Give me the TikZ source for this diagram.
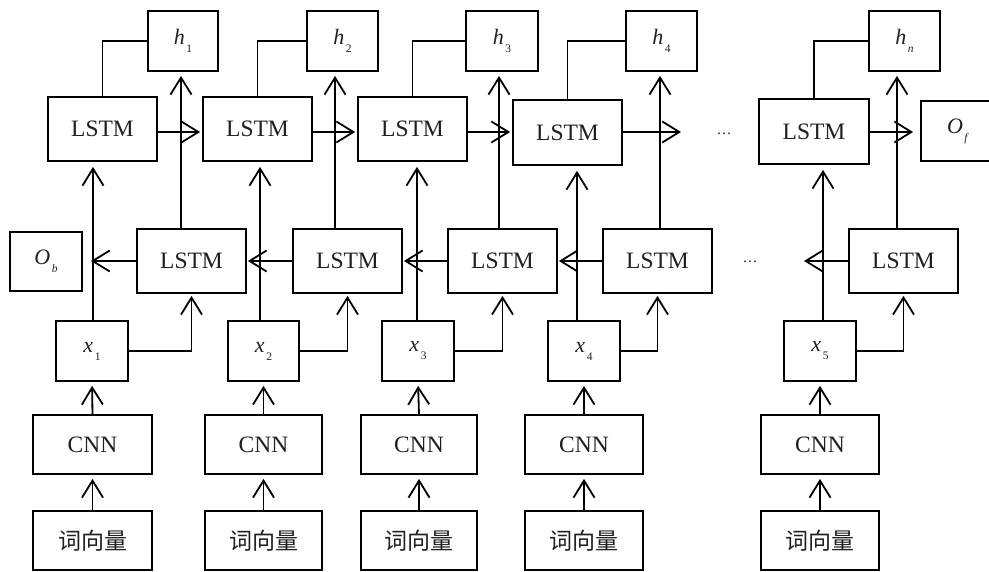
\documentclass[tikz,border=0pt]{standalone}
\usepackage{fontspec}
\setmainfont{Liberation Serif}
\newfontfamily\cjk{Noto Sans CJK SC}
\usetikzlibrary{arrows.meta}

\definecolor{ink}{RGB}{35,31,32}

% italic symbol with a lowered small index
\newcommand{\vsub}[2]{\textit{#1}\kern1.5pt\raisebox{-8pt}{\fontsize{11.5}{11.5}\selectfont #2}}

\begin{document}
\begin{tikzpicture}[x=1pt,y=-1pt,
  box/.style={draw, line width=1.8pt, inner sep=0pt, text=ink,
    font=\fontsize{23.5}{24}\selectfont},
  symbox/.style={box, font=\fontsize{22}{23}\selectfont},
  cjkbox/.style={box, font=\cjk\fontsize{23}{24}\selectfont},
  wire/.style={line width=1.8pt},
  arr/.style={wire, -{Straight Barb[length=17pt,width=21pt]}, shorten >=2pt},
  dots/.style={text=ink, font=\fontsize{15}{15}\selectfont, inner sep=0pt},
]
\clip (0,0) rectangle (989,572);
\fill[white] (0,0) rectangle (989,572);

% forward LSTM row
\node[box, minimum width=109pt, minimum height=64pt] (f1) at (102.5,129) {LSTM};
\node[box, minimum width=109pt, minimum height=64pt] (f2) at (257.5,129) {LSTM};
\node[box, minimum width=109pt, minimum height=64pt] (f3) at (412.5,129) {LSTM};
\node[box, minimum width=109pt, minimum height=65pt] (f4) at (567.5,132.5) {LSTM};
\node[box, minimum width=110pt, minimum height=65pt] (f5) at (814,131.5) {LSTM};

% backward LSTM row
\node[box, minimum width=109pt, minimum height=64pt] (b1) at (191.5,261) {LSTM};
\node[box, minimum width=109pt, minimum height=64pt] (b2) at (347.5,261) {LSTM};
\node[box, minimum width=109pt, minimum height=64pt] (b3) at (502.5,261) {LSTM};
\node[box, minimum width=109pt, minimum height=64pt] (b4) at (657.5,261) {LSTM};
\node[box, minimum width=109pt, minimum height=64pt] (b5) at (903.5,261) {LSTM};

% hidden outputs
\node[symbox, minimum width=70pt, minimum height=60pt] (h1) at (183,41) {\vsub{h}{1}};
\node[symbox, minimum width=71pt, minimum height=60pt] (h2) at (342.5,41) {\vsub{h}{2}};
\node[symbox, minimum width=72pt, minimum height=60pt] (h3) at (502,41) {\vsub{h}{3}};
\node[symbox, minimum width=71pt, minimum height=60pt] (h4) at (661.5,41) {\vsub{h}{4}};
\node[symbox, minimum width=71pt, minimum height=60pt] (hn) at (904.5,41) {\vsub{h}{\textit{n}}};

% inputs
\node[symbox, minimum width=72pt, minimum height=60pt] (x1) at (92,351) {\vsub{x}{1}};
\node[symbox, minimum width=71pt, minimum height=60pt] (x2) at (263.5,351) {\vsub{x}{2}};
\node[symbox, minimum width=72pt, minimum height=60pt] (x3) at (418,351) {\vsub{x}{3}};
\node[symbox, minimum width=72pt, minimum height=60pt] (x4) at (584,351) {\vsub{x}{4}};
\node[symbox, minimum width=72pt, minimum height=60pt] (x5) at (820,351) {\vsub{x}{5}};

% CNN row
\node[box, minimum width=119pt, minimum height=59pt] (c1) at (92.5,444.5) {CNN};
\node[box, minimum width=117pt, minimum height=59pt] (c2) at (263.5,444.5) {CNN};
\node[box, minimum width=116pt, minimum height=59pt] (c3) at (419,444.5) {CNN};
\node[box, minimum width=118pt, minimum height=59pt] (c4) at (584,444.5) {CNN};
\node[box, minimum width=118pt, minimum height=59pt] (c5) at (820,444.5) {CNN};

% word vectors
\node[cjkbox, minimum width=119pt, minimum height=59pt] (e1) at (92.5,540.5) {词向量};
\node[cjkbox, minimum width=117pt, minimum height=59pt] (e2) at (263.5,540.5) {词向量};
\node[cjkbox, minimum width=116pt, minimum height=59pt] (e3) at (419,540.5) {词向量};
\node[cjkbox, minimum width=118pt, minimum height=59pt] (e4) at (584,540.5) {词向量};
\node[cjkbox, minimum width=118pt, minimum height=59pt] (e5) at (820,540.5) {词向量};

% final states
\node[symbox, minimum width=72pt, minimum height=59pt] (ob) at (46,261.5) {\vsub{O}{\textit{b}}};
\node[symbox, minimum width=74pt, minimum height=60pt] (of) at (958,131) {\vsub{O}{\textit{f}}};

% ellipses
\node[dots] (dotf) at (724,134) {…};
\node[dots] (dotb) at (750,262) {…};

% guide coordinates for the vertical wires
\coordinate (u1) at (93,0);
\coordinate (u2) at (260,0);
\coordinate (u3) at (417,0);
\coordinate (u4) at (577,0);
\coordinate (u5) at (823,0);
\coordinate (w1) at (181,0);
\coordinate (w2) at (335,0);
\coordinate (w3) at (499,0);
\coordinate (w4) at (660,0);
\coordinate (w5) at (897,0);
\coordinate (rf) at (0,132);
\coordinate (rb) at (0,261);
\coordinate (endf) at (681,132);
\coordinate (endb) at (804,261);
\coordinate (endo) at (91,261);

% word vector -> CNN -> x
\foreach \i in {1,...,5} {
  \draw[arr, shorten >=4pt] (e\i.north) -- (c\i.south);
  \draw[arr, shorten >=4pt] (c\i.north) -- (x\i.south);
}

% x -> forward LSTM, x -> backward LSTM
\foreach \i in {1,...,5} {
  \draw[arr, shorten >=5pt] (x\i.north -| u\i) -- (f\i.south -| u\i);
  \draw[arr] (x\i.east) -| (b\i.south);
}

% forward LSTM -> h (plain), backward LSTM -> h (arrow)
\foreach \i/\h in {1/h1,2/h2,3/h3,4/h4,5/hn} {
  \draw[wire] (f\i.north) |- (\h.west);
  \draw[arr, shorten >=4pt] (b\i.north -| w\i) -- (\h.south -| w\i);
}

% forward chain
\draw[arr] (f1.east |- rf) -- (f2.west |- rf);
\draw[arr] (f2.east |- rf) -- (f3.west |- rf);
\draw[arr] (f3.east |- rf) -- (f4.west |- rf);
\draw[arr, shorten >=0pt] (f4.east |- rf) -- (endf);
\draw[arr, shorten >=7pt] (f5.east |- rf) -- (of.west |- rf);

% backward chain
\draw[arr, shorten >=1pt] (b2.west) -- (b1.east);
\draw[arr, shorten >=1pt] (b3.west) -- (b2.east);
\draw[arr, shorten >=1pt] (b4.west) -- (b3.east);
\draw[arr, shorten >=0pt] (b1.west) -- (endo);
\draw[arr, shorten >=0pt] (b5.west) -- (endb);
\end{tikzpicture}
\end{document}
